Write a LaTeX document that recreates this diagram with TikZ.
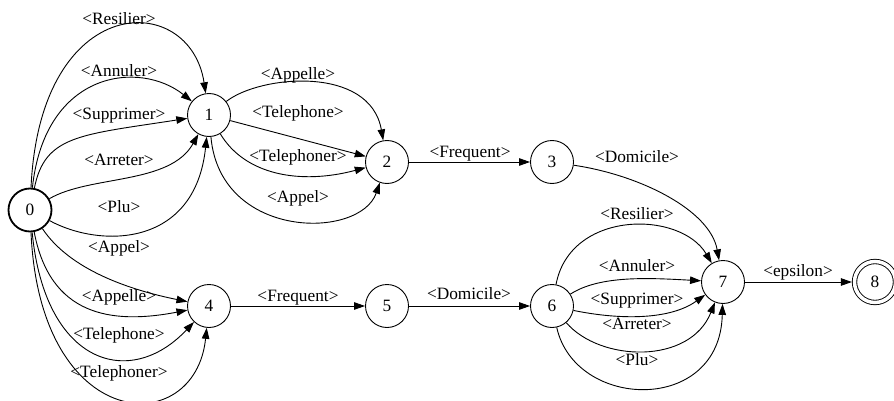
\documentclass[tikz,border=0pt]{standalone}
\usepackage{fontspec}
\setmainfont{Liberation Serif}
\usetikzlibrary{arrows.meta}
\tikzset{
	etat/.style={circle, draw, line width=0.9pt, minimum size=43pt, inner sep=0pt, font=\fontsize{17.3}{19}\selectfont},
	init/.style={etat, line width=1.8pt},
	final/.style={etat, double, double distance=3.5pt, minimum size=41pt, outer sep=2.6pt},
	trans/.style={draw, line width=0.9pt, -{Triangle[length=11pt,width=7.5pt]}},
	lbl/.style={font=\fontsize{17.3}{19}\selectfont, inner sep=0pt, text height=11.5pt, text depth=3pt},
}
\begin{document}
\begin{tikzpicture}[x=1pt,y=1pt]
	\useasboundingbox (0,0) rectangle (894,400);
	%les etats
	\node[init] (n0) at (30,190) {0};
	\node[etat] (n1) at (209,285) {1};
	\node[etat] (n2) at (387,238) {2};
	\node[etat] (n3) at (552,238) {3};
	\node[etat] (n4) at (209,94) {4};
	\node[etat] (n5) at (387,94) {5};
	\node[etat] (n6) at (552,94) {6};
	\node[etat] (n7) at (723,118) {7};
	\node[final] (n8) at (875,118) {8};
	%fin
	%de 0 vers 1
	\draw[trans] (n0) .. controls (40,410) and (190,410) .. (n1) node[lbl] (l01a) at (119,380) {<Resilier>};
	\draw[trans] (n0) .. controls (45,330) and (140,340) .. (n1) node[lbl] (l01b) at (119,328) {<Annuler>};
	\draw[trans] (n0) .. controls (45,265) and (80,265) .. (n1) node[lbl] (l01c) at (119,285) {<Supprimer>};
	\draw[trans] (n0) .. controls (90,225) and (170,215) .. (n1) node[lbl] (l01d) at (119,239) {<Arreter>};
	\draw[trans] (n0) .. controls (100,152) and (195,152) .. (n1) node[lbl] (l01e) at (119,192) {<Plu>};
	%de 0 vers 4
	\draw[trans] (n0) .. controls (70,130) and (130,110) .. (n4) node[lbl] (l04a) at (119,152) {<Appel>};
	\draw[trans] (n0) .. controls (50,85) and (110,75) .. (n4) node[lbl] (l04b) at (119,103) {<Appelle>};
	\draw[trans] (n0) .. controls (45,35) and (130,10) .. (n4) node[lbl] (l04c) at (119,65) {<Telephone>};
	\draw[trans] (n0) .. controls (40,-35) and (195,-40) .. (n4) node[lbl] (l04d) at (119,27) {<Telephoner>};
	%de 1 vers 2
	\draw[trans] (n1) .. controls (260,325) and (370,335) .. (n2) node[lbl] (l12a) at (298,325) {<Appelle>};
	\draw[trans] (n1) -- (n2) node[lbl] (l12b) at (298,287) {<Telephone>};
	\draw[trans] (n1) .. controls (245,225) and (300,215) .. (n2) node[lbl] (l12c) at (298,243) {<Telephoner>};
	\draw[trans] (n1) .. controls (220,160) and (360,160) .. (n2) node[lbl] (l12d) at (298,202) {<Appel>};
	%les chaines
	\draw[trans] (n2) -- (n3) node[lbl] (l23) at (470,247) {<Frequent>};
	\draw[trans] (n4) -- (n5) node[lbl] (l45) at (298,103) {<Frequent>};
	\draw[trans] (n5) -- (n6) node[lbl] (l56) at (469,105) {<Domicile>};
	\draw[trans] (n3) .. controls (640,225) and (710,190) .. (n7) node[lbl] (l37) at (637,242) {<Domicile>};
	%de 6 vers 7
	\draw[trans] (n6) .. controls (570,190) and (680,190) .. (n7) node[lbl] (l67a) at (637,185) {<Resilier>};
	\draw[trans] (n6) .. controls (600,125) and (650,122) .. (n7) node[lbl] (l67b) at (637,133) {<Annuler>};
	\draw[trans] (n6) .. controls (620,80) and (670,80) .. (n7) node[lbl] (l67c) at (637,100) {<Supprimer>};
	\draw[trans] (n6) .. controls (600,38) and (690,35) .. (n7) node[lbl] (l67d) at (637,75) {<Arreter>};
	\draw[trans] (n6) .. controls (575,-10) and (720,-15) .. (n7) node[lbl] (l67e) at (637,39) {<Plu>};
	%fin
	\draw[trans] (n7) -- (n8) node[lbl] (l78) at (798,128) {<epsilon>};
\end{tikzpicture}
\end{document}
